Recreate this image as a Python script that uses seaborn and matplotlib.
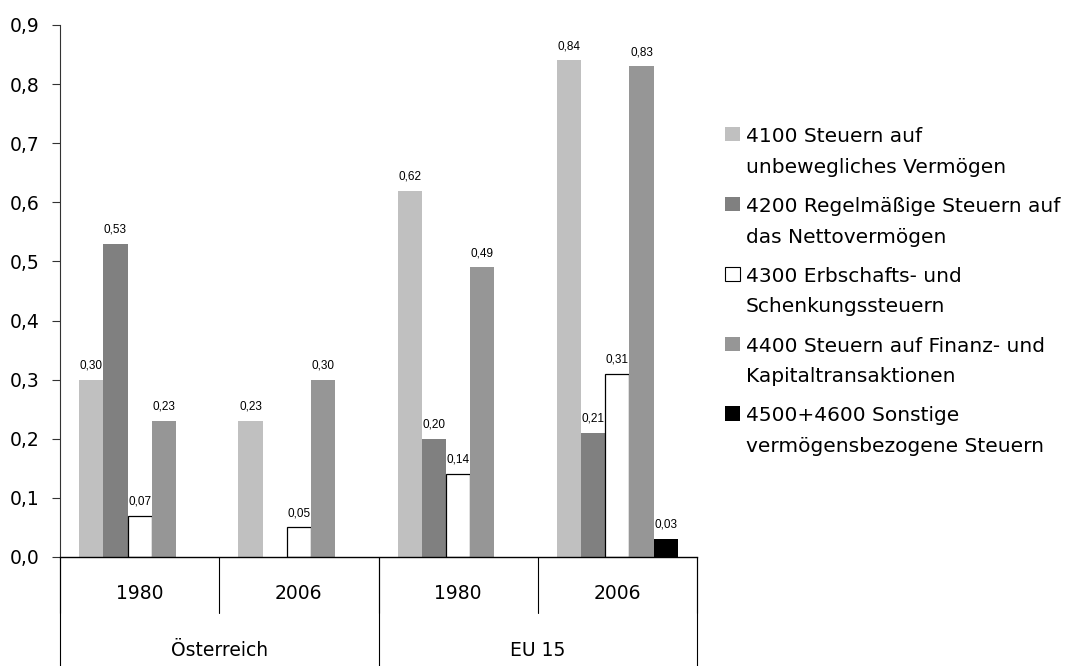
import pandas as pd
import matplotlib
matplotlib.use('Agg')
import matplotlib.pyplot as plt
import seaborn as sns
from matplotlib.patches import Patch
from matplotlib.ticker import FuncFormatter, MultipleLocator

# groups on the x axis (country / year)
groups = ['AT-1980', 'AT-2006', 'EU-1980', 'EU-2006']
years = ['1980', '2006', '1980', '2006']
countries = ['Österreich', 'EU 15']

categories = ['4100 Steuern auf\nunbewegliches Vermögen',
              '4200 Regelmäßige Steuern auf\ndas Nettovermögen',
              '4300 Erbschafts- und\nSchenkungssteuern',
              '4400 Steuern auf Finanz- und\nKapitaltransaktionen',
              '4500+4600 Sonstige\nvermögensbezogene Steuern']

# values per category, None = no bar
v4100 = [0.30, 0.23, 0.62, 0.84]
v4200 = [0.53, None, 0.20, 0.21]
v4300 = [0.07, 0.05, 0.14, 0.31]
v4400 = [0.23, 0.30, 0.49, 0.83]
v4500 = [None, None, None, 0.03]

colors = ['#c0c0c0', '#808080', '#ffffff', '#969696', '#000000']

def build_df():
    rows = []
    for cat, vals in zip(categories, [v4100, v4200, v4300, v4400, v4500]):
        for g, v in zip(groups, vals):
            rows.append({'group': g, 'cat': cat, 'value': v})
    df = pd.DataFrame(rows).dropna()
    return df

def comma(v, pos=None):
    return ('%.1f' % v).replace('.', ',')

def plot(df):
    sns.set_style('white')
    plt.rcParams['font.family'] = ['DejaVu Sans']
    plt.rcParams['text.color'] = 'black'
    plt.rcParams['ytick.labelcolor'] = 'black'
    fig = plt.figure(figsize=(10.71, 6.66), dpi=100)
    ax = fig.add_axes([60 / 1071, 1 - 557 / 666, 637 / 1071, 532 / 666])

    sns.barplot(data=df, x='group', y='value', hue='cat', order=groups,
                hue_order=categories, palette=colors, saturation=1,
                width=0.76, ax=ax, legend=False, errorbar=None)

    # white bars get a black outline
    for p in ax.patches:
        p.set_linewidth(0)
        if p.get_facecolor()[:3] == (1.0, 1.0, 1.0):
            p.set_edgecolor('black')
            p.set_linewidth(0.9)

    # value labels
    for c in ax.containers:
        labels = [('%.2f' % v).replace('.', ',') for v in c.datavalues]
        ax.bar_label(c, labels=labels, padding=6, fontsize=8.5,
                     family='Liberation Sans', color='black')

    ax.set_xlim(-0.5, 3.5)
    ax.set_ylim(0, 0.9)
    ax.yaxis.set_major_locator(MultipleLocator(0.1))
    ax.yaxis.set_major_formatter(FuncFormatter(comma))
    ax.tick_params(axis='y', which='major', left=True, length=6, width=0.8,
                   color='#333333', labelcolor='black', labelsize=13.5, pad=9)
    ax.set_xticks([])
    ax.set_xlabel('')
    ax.set_ylabel('')
    for s in ['top', 'right']:
        ax.spines[s].set_visible(False)
    ax.spines['left'].set_color('#333333')
    ax.spines['left'].set_linewidth(0.8)
    ax.spines['bottom'].set_color('black')
    ax.spines['bottom'].set_linewidth(1.0)

    # two level category axis
    trans = ax.get_xaxis_transform()
    for x in [-0.5, 0.5, 1.5, 2.5, 3.5]:
        ax.plot([x, x], [0, -0.105], transform=trans, color='black', lw=0.8, clip_on=False)
    for x in [-0.5, 1.5, 3.5]:
        ax.plot([x, x], [0, -0.22], transform=trans, color='black', lw=0.8, clip_on=False)
    for i, y in enumerate(years):
        ax.text(i, -0.068, y, transform=trans, ha='center', va='center', fontsize=13.5)
    for i, c in enumerate(countries):
        ax.text(0.5 + 2 * i, -0.175, c, transform=trans, ha='center', va='center', fontsize=13.5)

    # legend
    handles = [Patch(facecolor=col, edgecolor='black' if col == '#ffffff' else col,
                     linewidth=0.8 if col == '#ffffff' else 0) for col in colors]
    leg = fig.legend(handles, categories, loc='upper left', bbox_to_anchor=(725 / 1071, 1 - 127 / 666),
                     frameon=False, fontsize=14.5, handlelength=0.72, handleheight=0.72,
                     handletextpad=0.3, labelspacing=1.0, borderaxespad=0, borderpad=0)
    for t in leg.get_texts():
        t.set_linespacing(1.78)
        t.set_color('black')
    for col in leg._legend_handle_box.get_children():
        for item in col.get_children():
            item.align = 'top'

    plt.savefig('out.png', dpi=100)
    return df

if __name__ == '__main__':
    df = build_df()
    plot(df)
